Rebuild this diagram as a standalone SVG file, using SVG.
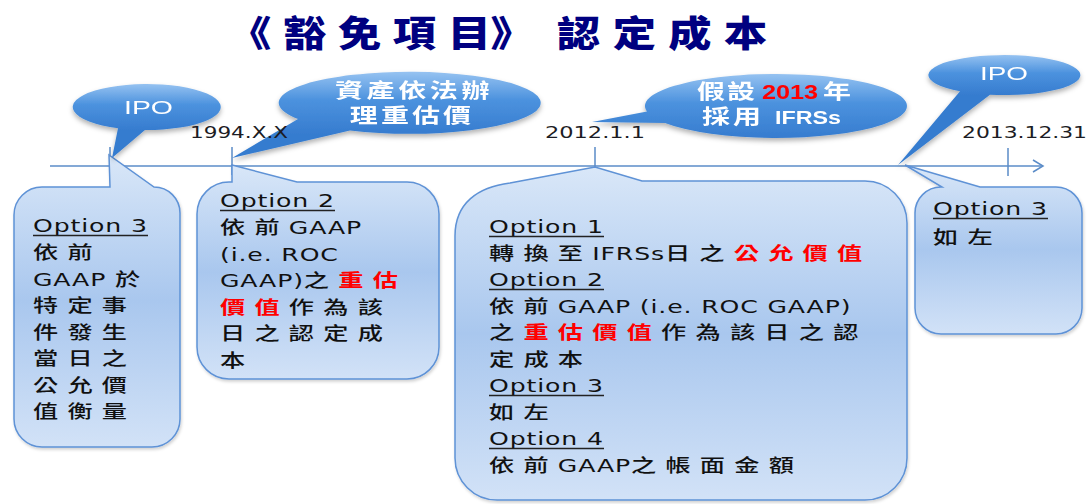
<svg xmlns="http://www.w3.org/2000/svg" xmlns:xlink="http://www.w3.org/1999/xlink" width="1089" height="504" viewBox="0 0 1089 504">
<style>
.box{fill:url(#boxg);stroke:#5e92d6;stroke-width:1.5;filter:url(#sh2)}
.call{filter:url(#sh)}
.bt{font-family:"DejaVu Sans","Noto Sans CJK TC",sans-serif;font-size:18px;fill:#111}
.c{letter-spacing:6.6px;font-weight:500}
.l{letter-spacing:0.6px}
.r{fill:#ff0000;font-weight:bold}
.ul{stroke:#222;stroke-width:1.3}
.tl{stroke:#5b8cc8;stroke-width:1.5;fill:none}
.date{font-family:"DejaVu Sans",sans-serif;font-size:15px;fill:#1c1c24}
.wt{font-family:"Noto Sans CJK TC","DejaVu Sans",sans-serif;font-weight:bold;fill:#fff;font-size:20px}
.lb{font-family:"Liberation Sans",sans-serif;font-weight:bold}
.ipo{font-family:"Liberation Sans",sans-serif;fill:#fff;font-size:18.5px}
.title{font-family:"Noto Sans CJK TC",sans-serif;font-weight:900;font-size:36px;fill:#000080}
</style>
<defs>
<linearGradient id="boxg" x1="0" y1="0" x2="0" y2="1">
<stop offset="0" stop-color="#d9e7f8"/><stop offset="0.5" stop-color="#a9c7ee"/><stop offset="1" stop-color="#d2e2f7"/>
</linearGradient>
<linearGradient id="cg" x1="0" y1="0" x2="0" y2="1">
<stop offset="0" stop-color="#95c2f1"/><stop offset="0.45" stop-color="#4c92de"/><stop offset="1" stop-color="#367ccf"/>
</linearGradient>
<linearGradient id="cg1" href="#cg" xlink:href="#cg" gradientUnits="userSpaceOnUse" x1="0" y1="84" x2="0" y2="130"/>
<linearGradient id="cg2" href="#cg" xlink:href="#cg" gradientUnits="userSpaceOnUse" x1="0" y1="72" x2="0" y2="134"/>
<linearGradient id="cg3" href="#cg" xlink:href="#cg" gradientUnits="userSpaceOnUse" x1="0" y1="74" x2="0" y2="138"/>
<linearGradient id="cg4" href="#cg" xlink:href="#cg" gradientUnits="userSpaceOnUse" x1="0" y1="55" x2="0" y2="95"/>
<filter id="sh" x="-20%" y="-20%" width="140%" height="160%">
<feDropShadow dx="0" dy="3" stdDeviation="2.5" flood-color="#000" flood-opacity="0.3"/>
</filter>
<filter id="sh2" x="-10%" y="-10%" width="120%" height="120%">
<feDropShadow dx="1" dy="2" stdDeviation="1.5" flood-color="#000" flood-opacity="0.18"/>
</filter>
<marker id="arr" markerUnits="userSpaceOnUse" markerWidth="14" markerHeight="14" refX="11" refY="7" orient="auto">
<path d="M1 1 L11 7 L1 13" fill="none" stroke="#5b8cc8" stroke-width="1.5"/>
</marker>
</defs>
<rect width="1089" height="504" fill="#fff"/>

<g id="title">
<text class="title" transform="matrix(1.2 0 0 1 228 47)" style="letter-spacing:9.8px">《豁免項目</text>
<text class="title" transform="matrix(1.2 0 0 1 512 47)" text-anchor="middle">》</text>
<text class="title" transform="matrix(1.2 0 0 1 557 47)" style="letter-spacing:10.4px">認定成本</text>
</g>

<g id="connectors">
<path class="tl" d="M50 166 H1043" marker-end="url(#arr)"/>
<path class="tl" d="M110 147 V166 M232 147 V175 M595 147 V167 M1008 148 V176"/>
</g>

<g id="box1">
<path class="box" d="M14 215 A28 28 0 0 1 42 187 L110 187 L109 155 L154 187 A26 26 0 0 1 180 213 L180 419 A28 28 0 0 1 152 447 L42 447 A28 28 0 0 1 14 419 Z"/>
<text class="bt l" transform="matrix(1.4 0 0 1 33 232)">Option 3</text>
<line class="ul" x1="33" y1="235.5" x2="148" y2="235.5"/>
<text class="bt c" transform="matrix(1.4 0 0 1 33 259)">依前</text>
<text class="bt" transform="matrix(1.4 0 0 1 33 285.5)"><tspan class="l">GAAP </tspan><tspan class="c">於</tspan></text>
<text class="bt c" transform="matrix(1.4 0 0 1 33 312)">特定事</text>
<text class="bt c" transform="matrix(1.4 0 0 1 33 338.5)">件發生</text>
<text class="bt c" transform="matrix(1.4 0 0 1 33 365)">當日之</text>
<text class="bt c" transform="matrix(1.4 0 0 1 33 391.5)">公允價</text>
<text class="bt c" transform="matrix(1.4 0 0 1 33 418)">值衡量</text>
</g>

<g id="box2">
<path class="box" d="M197 214 A32 32 0 0 1 229 182 L232 182 L232 165 L297 182 L407 182 A32 32 0 0 1 439 214 L439 347 A32 32 0 0 1 407 379 L229 379 A32 32 0 0 1 197 347 Z"/>
<text class="bt l" transform="matrix(1.4 0 0 1 220 207)">Option 2</text>
<line class="ul" x1="220" y1="210.5" x2="335" y2="210.5"/>
<text class="bt" transform="matrix(1.4 0 0 1 220 234)"><tspan class="c">依前</tspan><tspan class="l">GAAP</tspan></text>
<text class="bt l" transform="matrix(1.4 0 0 1 220 260.5)">(i.e. ROC</text>
<text class="bt" transform="matrix(1.4 0 0 1 220 287)"><tspan class="l">GAAP)</tspan><tspan class="c">之</tspan><tspan class="c r">重估</tspan></text>
<text class="bt" transform="matrix(1.4 0 0 1 220 313.5)"><tspan class="c r">價值</tspan><tspan class="c">作為該</tspan></text>
<text class="bt c" transform="matrix(1.4 0 0 1 220 340)">日之認定成</text>
<text class="bt c" transform="matrix(1.4 0 0 1 220 366.5)">本</text>
</g>

<g id="box3">
<path class="box" d="M455 236 C455 203 478 187 510 183 L595 167 L642 181 L865 181 A42 42 0 0 1 907 223 L907 458 A42 42 0 0 1 865 500 L497 500 A42 42 0 0 1 455 458 Z"/>
<text class="bt l" transform="matrix(1.4 0 0 1 489 233)">Option 1</text>
<line class="ul" x1="489" y1="236.5" x2="604" y2="236.5"/>
<text class="bt" transform="matrix(1.4 0 0 1 489 259.5)"><tspan class="c">轉換至</tspan><tspan class="l">IFRSs</tspan><tspan class="c">日之</tspan><tspan class="c r">公允價值</tspan></text>
<text class="bt l" transform="matrix(1.4 0 0 1 489 286)">Option 2</text>
<line class="ul" x1="489" y1="289.5" x2="604" y2="289.5"/>
<text class="bt" transform="matrix(1.4 0 0 1 489 312.5)"><tspan class="c">依前</tspan><tspan class="l">GAAP (i.e. ROC GAAP)</tspan></text>
<text class="bt" transform="matrix(1.4 0 0 1 489 339)"><tspan class="c">之</tspan><tspan class="c r">重估價值</tspan><tspan class="c">作為該日之認</tspan></text>
<text class="bt c" transform="matrix(1.4 0 0 1 489 365.5)">定成本</text>
<text class="bt l" transform="matrix(1.4 0 0 1 489 392)">Option 3</text>
<line class="ul" x1="489" y1="395.5" x2="604" y2="395.5"/>
<text class="bt c" transform="matrix(1.4 0 0 1 489 418.5)">如左</text>
<text class="bt l" transform="matrix(1.4 0 0 1 489 445)">Option 4</text>
<line class="ul" x1="489" y1="448.5" x2="604" y2="448.5"/>
<text class="bt" transform="matrix(1.4 0 0 1 489 471.5)"><tspan class="c">依前</tspan><tspan class="l">GAAP</tspan><tspan class="c">之帳面金額</tspan></text>
</g>

<g id="box4">
<path class="box" d="M915 213 A26 26 0 0 1 941 187 L942 187 L905 165 L980 187 L1056 187 A26 26 0 0 1 1082 213 L1082 308 A26 26 0 0 1 1056 334 L941 334 A26 26 0 0 1 915 308 Z"/>
<text class="bt l" transform="matrix(1.4 0 0 1 933 215)">Option 3</text>
<line class="ul" x1="933" y1="218.5" x2="1048" y2="218.5"/>
<text class="bt c" transform="matrix(1.4 0 0 1 933 244)">如左</text>
</g>

<g id="callout-ipo1" class="call">
<path fill="url(#cg1)" d="M118 128.2 L112 158 L145 130 A74 23 0 1 0 118 128.2 Z"/>
<text class="ipo" x="124" y="114" textLength="49" lengthAdjust="spacingAndGlyphs">IPO</text>
</g>

<g id="callout-revalue" class="call">
<path fill="url(#cg2)" d="M298 119 L232 158 L350 130.4 A131 31 0 1 0 298 119 Z"/>
<text class="wt" transform="matrix(1.4 0 0 1 414 98)" text-anchor="middle" style="letter-spacing:2.6px">資產依法辦</text>
<text class="wt" transform="matrix(1.4 0 0 1 412 123)" text-anchor="middle" style="letter-spacing:2.2px">理重估價</text>
</g>

<g id="callout-2013" class="call">
<path fill="url(#cg3)" d="M647 111.6 L592 122 L665 123 A131 32 0 1 0 647 111.6 Z"/>
<text class="wt" transform="matrix(1.4 0 0 1 697 99)" style="letter-spacing:1.4px">假設</text>
<text class="lb" x="762" y="99" textLength="56" lengthAdjust="spacingAndGlyphs" style="font-size:21px;fill:#ff0000">2013</text>
<text class="wt" transform="matrix(1.4 0 0 1 823 99)">年</text>
<text class="wt" transform="matrix(1.4 0 0 1 702 124)" style="letter-spacing:2.2px">採用</text>
<text class="lb" x="775" y="124" textLength="66" lengthAdjust="spacingAndGlyphs" style="font-size:18px;fill:#fff">IFRSs</text>
</g>

<g id="callout-ipo2" class="call">
<path fill="url(#cg4)" d="M960 91.3 L898 165 L990 94.7 A76 20 0 1 0 960 91.3 Z"/>
<text class="ipo" x="980" y="80" textLength="48" lengthAdjust="spacingAndGlyphs">IPO</text>
</g>

<g id="labels">
<text class="date" x="190" y="138" textLength="98" lengthAdjust="spacingAndGlyphs">1994.X.X</text>
<text class="date" x="545" y="138" textLength="100" lengthAdjust="spacingAndGlyphs">2012.1.1</text>
<text class="date" x="962" y="138" textLength="125" lengthAdjust="spacingAndGlyphs">2013.12.31</text>
</g>
</svg>
